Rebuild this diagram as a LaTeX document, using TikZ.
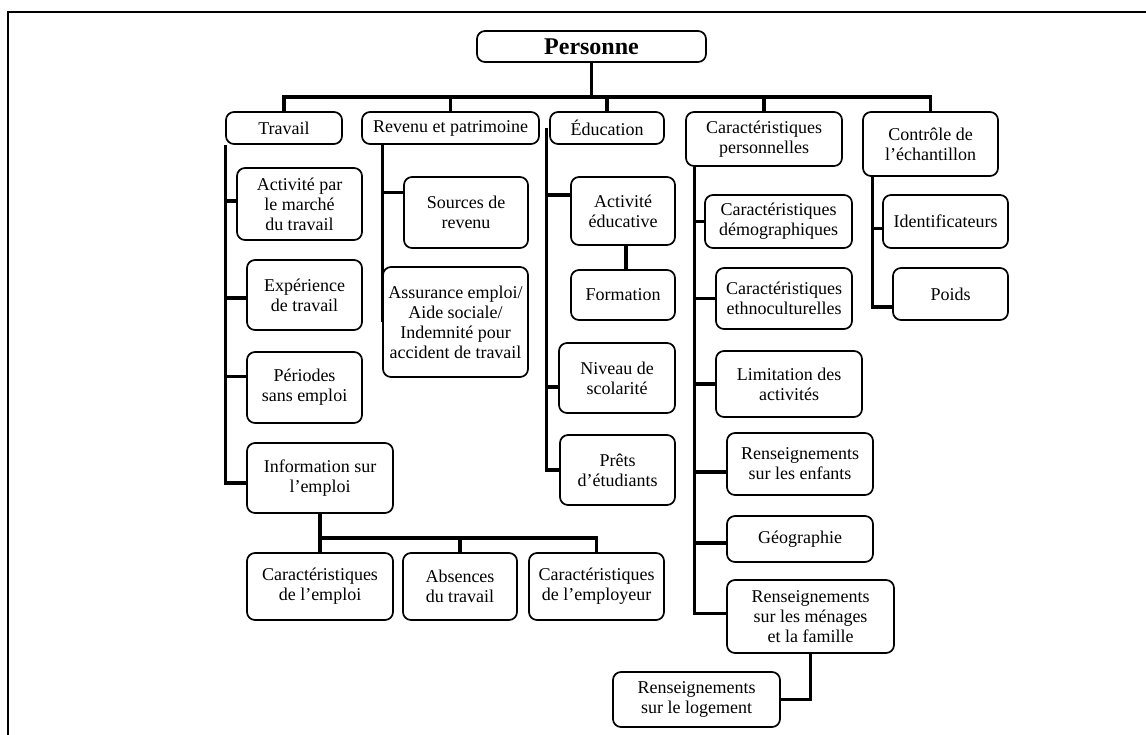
\documentclass[tikz,border=0pt]{standalone}
\usepackage{fontspec}
\setmainfont{Liberation Serif}
\usetikzlibrary{calc}
\tikzset{
  bx/.style={draw, line width=1.7pt, rounded corners=8pt, align=center, inner sep=0pt,
     font=\fontsize{18}{20}\selectfont},
  conn/.style={line width=3.2pt, line join=miter},
  frame/.style={line width=2pt}
}
\newcommand{\B}[7][]{%
  \node[bx,#1, minimum width={(#5)-(#3)}, minimum height={(#6)-(#4)}] (#2) at ({((#3)+(#5))/2},{((#4)+(#6))/2}) {#7};}
% branch from trunk coordinate #1 to west side of node #2, shifted by #3
\newcommand{\Br}[3]{%
  \coordinate (brtmp) at ([yshift=#3]#2.west);
  \draw[conn] (#1 |- brtmp) -- (brtmp);}
\begin{document}
\begin{tikzpicture}[x=1pt,y=-1pt]
\useasboundingbox (0,0) rectangle (1146,734);
\draw[frame] (1150,12) -- (8,12) -- (8,738);
% top
\B[font=\fontsize{24}{28}\selectfont\bfseries]{pers}{477}{31}{706}{62}{Personne}
\B{trav}{226}{112}{342}{144}{Travail}
\B{rev}{362}{112}{539}{144}{Revenu et patrimoine}
\B{edu}{550}{112}{664}{144}{Éducation}
\B{carp}{686}{112}{842}{166}{Caractéristiques\\personnelles}
\B{ctrl}{863}{112}{998}{176}{Contrôle de\\l’échantillon}
% travail
\B{act}{237}{168}{362}{240}{Activité par\\le marché\\du travail}
\B{exp}{247}{260}{362}{330}{Expérience\\de travail}
\B{per}{247}{352}{362}{423}{Périodes\\sans emploi}
\B{info}{247}{443}{393}{513}{Information sur\\l’emploi}
\B{cemp}{247}{553}{393}{620}{Caractéristiques\\de l’emploi}
\B{abs}{403}{553}{517}{620}{Absences\\du travail}
\B{cempl}{529}{553}{664}{620}{Caractéristiques\\de l’employeur}
% revenu
\B{src}{404}{177}{528}{248}{Sources de\\revenu}
\B{assur}{383}{267}{528}{377}{Assurance emploi/\\Aide sociale/\\Indemnité pour\\accident de travail}
% education
\B{acte}{571}{177}{675}{245}{Activité\\éducative}
\B{form}{571}{270}{675}{320}{Formation}
\B{niv}{559}{343}{675}{413}{Niveau de\\scolarité}
\B{pret}{560}{435}{675}{505}{Prêts\\d’étudiants}
% caracteristiques personnelles
\B{demo}{705}{195}{852}{248}{Caractéristiques\\démographiques}
\B{ethno}{716}{268}{852}{329}{Caractéristiques\\ethnoculturelles}
\B{lim}{716}{351}{862}{417}{Limitation des\\activités}
\B{enf}{727}{433}{873}{495}{Renseignements\\sur les enfants}
\B{geo}{727}{516}{873}{562}{Géographie}
\B{men}{727}{580}{894}{653}{Renseignements\\sur les ménages\\et la famille}
\B{log}{613}{672}{780}{727}{Renseignements\\sur le logement}
% controle
\B{ident}{883}{195}{1008}{248}{Identificateurs}
\B{poids}{893}{268}{1008}{320}{Poids}
% connectors: top level
\coordinate (bus) at (0,97);
\draw[conn] (pers.south) -- (pers.south |- bus);
\draw[conn] (trav.north) -- (trav.north |- bus) -- (ctrl.north |- bus) -- (ctrl.north);
\foreach \n in {rev,edu,carp} \draw[conn] (\n.north |- bus) -- (\n.north);
% travail
\coordinate (tt) at (trav.south west);
\coordinate (infoc) at ([yshift=-5pt]info.west);
\draw[conn] (tt) -- (tt |- infoc) -- (infoc);
\Br{tt}{act}{3pt}
\Br{tt}{exp}{-3pt}
\Br{tt}{per}{11pt}
\coordinate (ibus) at (0,538);
\draw[conn] (info.south) -- (info.south |- ibus);
\draw[conn] (cemp.north) -- (cemp.north |- ibus) -- (cempl.north |- ibus) -- (cempl.north);
\draw[conn] (abs.north |- ibus) -- (abs.north);
% revenu
\coordinate (rt) at ([xshift=21pt]rev.south west);
\draw[conn] (rt) -- (rt |- assur.west);
\Br{rt}{src}{20pt}
% education
\coordinate (et) at ([xshift=-3pt]edu.west);
\draw[conn] (et) -- (et |- pret.west) -- (pret.west);
\Br{et}{acte}{16pt}
\Br{et}{niv}{-9pt}
\draw[conn] ([xshift=3pt]acte.south) -- ([xshift=3pt]form.north);
% caracteristiques personnelles
\coordinate (ct) at ([xshift=9pt]carp.south west);
\coordinate (menc) at ([yshift=3pt]men.west);
\draw[conn] (ct) -- (ct |- menc) -- (menc);
\Br{ct}{demo}{0pt}
\Br{ct}{ethno}{0pt}
\Br{ct}{lim}{0pt}
\Br{ct}{enf}{-8pt}
\Br{ct}{geo}{-4pt}
\draw[conn] (men.south) |- (log.east);
% controle
\coordinate (kt) at ([xshift=10pt]ctrl.south west);
\coordinate (poidsc) at ([yshift=-13pt]poids.west);
\draw[conn] (kt) -- (kt |- poidsc) -- (poidsc);
\Br{kt}{ident}{-7pt}
\end{tikzpicture}
\end{document}
